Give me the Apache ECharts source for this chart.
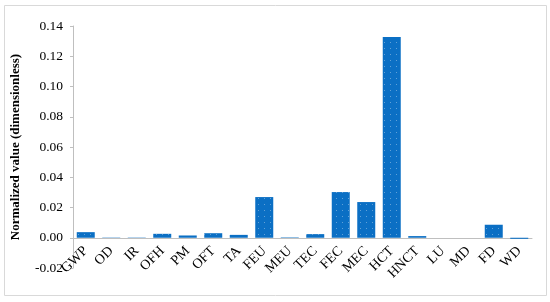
<!DOCTYPE html>
<html><head><meta charset="utf-8">
<script src="https://cdn.jsdelivr.net/npm/echarts@6/dist/echarts.min.js"></script>
<style>html,body{margin:0;padding:0;background:#fff}#c{width:550px;height:302px}</style>
</head><body><div id="c"></div>
<script>
var categories = ['GWP','OD','IR','OFH','PM','OFT','TA','FEU','MEU','TEC','FEC','MEC','HCT','HNCT','LU','MD','FD','WD'];
var values = [0.0037,0.0002,0.0002,0.0026,0.0015,0.0030,0.0019,0.0269,0.0003,0.0024,0.0302,0.0236,0.1328,0.0011,0,0,0.0086,-0.0007];
var yTicks = {min:-0.02, max:0.14, interval:0.02};
var yTitle = 'Normalized value (dimensionless)';
</script>
<script>
var chart = echarts.init(document.getElementById('c'), null, {renderer:'canvas'});
var font = '"Liberation Serif", "DejaVu Serif", serif';
var plotH = 302 - 26 - 34;
var zeroOffset = -plotH * (0 - yTicks.min) / (yTicks.max - yTicks.min);
chart.setOption({
  animation:false,
  graphic:[{type:'rect', shape:{x:4.5,y:5.5,width:542,height:290}, style:{fill:'none', stroke:'#d9d9d9', lineWidth:1}, silent:true}],
  grid:{left:73, right:18, top:26, bottom:34, containLabel:false, outerBoundsMode:'none'},
  xAxis:{type:'category', data:categories, position:'bottom', offset:zeroOffset,
    axisLine:{onZero:false, lineStyle:{color:'#bfbfbf', width:1}},
    axisTick:{show:false},
    axisLabel:{rotate:45, interval:0, fontFamily:font, fontSize:14, color:'#000', margin:11}},
  yAxis:{type:'value', min:yTicks.min, max:yTicks.max, interval:yTicks.interval,
    name:yTitle, nameLocation:'middle', nameGap:51,
    nameTextStyle:{fontFamily:font, fontSize:13, fontWeight:'bold', color:'#000'},
    axisLine:{show:true, lineStyle:{color:'#bfbfbf'}},
    axisTick:{show:true, length:3, lineStyle:{color:'#bfbfbf'}},
    splitLine:{show:false},
    axisLabel:{fontFamily:font, fontSize:13.5, color:'#000', margin:10,
      formatter:function(v){return v.toFixed(2);}}},
  series:[{type:'bar', data:values, barWidth:18,
    itemStyle:{color:'#0b6fc4',
      decal:{symbol:'rect', symbolSize:1, color:'rgba(255,255,255,0.35)', dashArrayX:[1,5], dashArrayY:[1,5], rotation:0}}}]
});
</script>
</body></html>
